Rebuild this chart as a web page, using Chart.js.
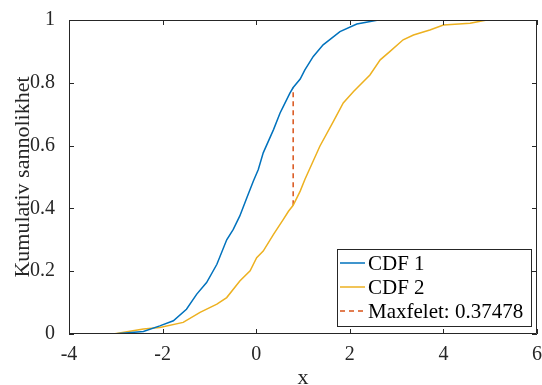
<!DOCTYPE html>
<html><head><meta charset="utf-8">
<script src="https://cdn.jsdelivr.net/npm/chart.js@4"></script>
<style>html,body{margin:0;padding:0;background:#fff}</style>
</head><body>
<canvas id="c" width="542" height="385"></canvas>
<script>
const xTickValues = [-4, -2, 0, 2, 4, 6];
const xTickLabels = ['-4', '-2', '0', '2', '4', '6'];
const yTickValues = [0, 0.2, 0.4, 0.6, 0.8, 1];
const yTickLabels = ['0', '0.2', '0.4', '0.6', '0.8', '1'];

const cdf1X = [-3.05, -2.41, -2.06, -1.77, -1.49, -1.27, -1.06, -0.84, -0.63, -0.49, -0.35, -0.20, -0.06, 0.045, 0.15, 0.37, 0.51, 0.58, 0.72, 0.79, 0.94, 1.04, 1.22, 1.43, 1.79, 2.15, 2.61];
const cdf1Y = [0, 0.008, 0.026, 0.042, 0.079, 0.127, 0.164, 0.222, 0.30, 0.333, 0.376, 0.434, 0.487, 0.524, 0.577, 0.651, 0.704, 0.725, 0.767, 0.785, 0.812, 0.841, 0.884, 0.921, 0.963, 0.987, 1.0];

const cdf2X = [-3.05, -2.41, -2.06, -1.56, -1.20, -0.84, -0.63, -0.35, -0.13, 0.01, 0.15, 0.37, 0.58, 0.69, 0.79, 0.94, 1.04, 1.36, 1.65, 1.86, 2.08, 2.43, 2.65, 2.86, 3.14, 3.36, 3.71, 4.0, 4.57, 4.93, 6.0];
const cdf2Y = [0, 0.016, 0.021, 0.037, 0.069, 0.095, 0.116, 0.169, 0.201, 0.243, 0.264, 0.317, 0.365, 0.391, 0.41, 0.455, 0.492, 0.598, 0.677, 0.736, 0.772, 0.825, 0.873, 0.90, 0.937, 0.952, 0.968, 0.984, 0.99, 1.0, 1.0];

const maxErrX = [0.79, 0.79];
const maxErrY = [0.41, 0.785];

const seriesNames = ['CDF 1', 'CDF 2', 'Maxfelet: 0.37478'];
const xAxisTitle = 'x';
const yAxisTitle = 'Kumulativ sannolikhet';

const FONT = "'Liberation Serif', 'Times New Roman', serif";
const AXC = '#262626';

function pts(xs, ys) { return xs.map((x, i) => ({x: x, y: ys[i]})); }

const boxPlugin = {
  id: 'boxTicks',
  afterDatasetsDraw(chart) {
    const {ctx, chartArea: a, scales: {x, y}} = chart;
    ctx.save();
    ctx.strokeStyle = AXC;
    ctx.lineWidth = 1;
    ctx.beginPath();
    ctx.rect(a.left + 0.5, a.top + 0.5, a.right - a.left - 1, a.bottom - a.top - 1);
    ctx.stroke();
    const L = 5;
    ctx.beginPath();
    xTickValues.forEach(v => {
      const px = Math.round(x.getPixelForValue(v)) + 0.5;
      ctx.moveTo(px, a.bottom); ctx.lineTo(px, a.bottom - L);
      ctx.moveTo(px, a.top); ctx.lineTo(px, a.top + L);
    });
    yTickValues.forEach(v => {
      const py = Math.round(y.getPixelForValue(v)) + 0.5;
      ctx.moveTo(a.left, py); ctx.lineTo(a.left + L, py);
      ctx.moveTo(a.right, py); ctx.lineTo(a.right - L, py);
    });
    ctx.stroke();
    ctx.restore();
  },
  afterDraw(chart) {
    const {ctx, chartArea: a} = chart;
    const w = 194, h = 77;
    const bx = a.right - 6 - w, by = a.bottom - 8 - h;
    ctx.save();
    ctx.fillStyle = '#fff';
    ctx.fillRect(bx, by, w, h);
    ctx.strokeStyle = AXC;
    ctx.lineWidth = 1;
    ctx.strokeRect(Math.round(bx) + 0.5, Math.round(by) + 0.5, w, h);
    ctx.font = '21px ' + FONT;
    ctx.textBaseline = 'middle';
    ctx.fillStyle = '#000';
    chart.data.datasets.forEach((ds, i) => {
      const cy = by + 14 + i * 24;
      ctx.strokeStyle = ds.borderColor;
      ctx.lineWidth = ds.borderWidth;
      ctx.setLineDash(ds.borderDash || []);
      ctx.beginPath();
      ctx.moveTo(bx + 3, cy); ctx.lineTo(bx + 28, cy);
      ctx.stroke();
      ctx.setLineDash([]);
      ctx.fillText(ds.label, bx + 31, cy + 1);
    });
    ctx.restore();
  }
};

new Chart(document.getElementById('c'), {
  type: 'line',
  data: {
    datasets: [
      {label: seriesNames[0], data: pts(cdf1X, cdf1Y), borderColor: '#0072BD', borderWidth: 1.5, pointRadius: 0, tension: 0, fill: false},
      {label: seriesNames[1], data: pts(cdf2X, cdf2Y), borderColor: '#EDB120', borderWidth: 1.5, pointRadius: 0, tension: 0, fill: false},
      {label: seriesNames[2], data: pts(maxErrX, maxErrY), borderColor: '#D95319', borderWidth: 1.5, borderDash: [5, 4], pointRadius: 0, tension: 0, fill: false}
    ]
  },
  options: {
    responsive: false,
    animation: false,
    layout: {padding: {top: 20, right: 5, left: 0, bottom: 0}},
    plugins: {legend: {display: false}, tooltip: {enabled: false}},
    scales: {
      x: {
        type: 'linear', min: -4, max: 6,
        afterBuildTicks(s) { s.ticks = xTickValues.map(v => ({value: v})); },
        afterFit(s) { s.height = 51; s.paddingLeft = 0; s.paddingRight = 0; },
        grid: {display: false},
        border: {display: false},
        ticks: {
          padding: 1, color: AXC, maxRotation: 0, autoSkip: false,
          font: {family: FONT, size: 20},
          callback: (v) => xTickLabels[xTickValues.indexOf(v)]
        },
        title: {display: true, text: xAxisTitle, color: AXC, font: {family: FONT, size: 22, lineHeight: 0.6}, padding: {top: 0, bottom: 0}}
      },
      y: {
        type: 'linear', min: 0, max: 1,
        afterBuildTicks(s) { s.ticks = yTickValues.map(v => ({value: v})); },
        afterFit(s) { s.width = 69; s.paddingTop = 0; s.paddingBottom = 0; },
        grid: {display: false},
        border: {display: false},
        ticks: {
          padding: 6, color: AXC, autoSkip: false,
          font: {family: FONT, size: 20},
          callback: (v) => yTickLabels[yTickValues.indexOf(v)]
        },
        title: {display: true, text: yAxisTitle, color: AXC, font: {family: FONT, size: 22, lineHeight: 1}, padding: {top: 12, bottom: 0}}
      }
    }
  },
  plugins: [boxPlugin]
});
</script>
</body></html>
